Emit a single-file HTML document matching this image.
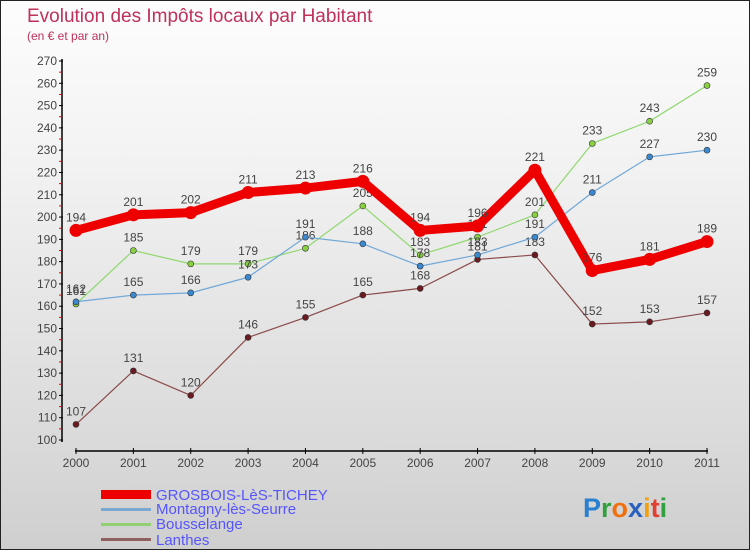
<!DOCTYPE html>
<html><head><meta charset="utf-8"><style>
body{margin:0;width:750px;height:550px;overflow:hidden;font-family:"Liberation Sans",sans-serif}
#wrap{position:relative;width:748px;height:548px;border:1px solid #222;background:linear-gradient(#fdfdfd,#f2f2f2 30%,#dadada 80%,#cfcfcf)}
</style></head><body>
<div id="wrap">
<svg id="chart" width="748" height="548">
<text x="26" y="21" font-size="19" fill="#c0305a">Evolution des Impôts locaux par Habitant</text>
<text x="26" y="39" font-size="12" fill="#c0305a">(en € et par an)</text>
<g id="axes"></g><g id="series"></g>
<g>
<rect x="100" y="489" width="50" height="9" fill="#e00"/>
<text x="155" y="499" font-size="15" fill="#55f">GROSBOIS-LèS-TICHEY</text>
<rect x="100" y="507" width="50" height="3" fill="#7aa8d0"/>
<text x="155" y="513" font-size="15" fill="#55f">Montagny-lès-Seurre</text>
<rect x="100" y="522" width="50" height="3" fill="#90d070"/>
<text x="155" y="528" font-size="15" fill="#55f">Bousselange</text>
<rect x="100" y="537" width="50" height="3" fill="#906060"/>
<text x="155" y="544" font-size="15" fill="#55f">Lanthes</text>
</g>
<text x="582" y="516" font-size="27" font-weight="bold"><tspan fill="#2a80d0">P</tspan><tspan fill="#30a040">r</tspan><tspan fill="#f07010">o</tspan><tspan fill="#2a60c0">x</tspan><tspan fill="#f0a010">i</tspan><tspan fill="#e04030">t</tspan><tspan fill="#30a040">i</tspan></text>
</svg></div>
<script>
const years=[2000,2001,2002,2003,2004,2005,2006,2007,2008,2009,2010,2011];
const grosbois=[194,201,202,211,213,216,194,196,221,176,181,189];
const montagny=[162,165,166,173,191,188,178,183,191,211,227,230];
const bousselange=[161,185,179,179,186,205,183,191,201,233,243,259];
const lanthes=[107,131,120,146,155,165,168,181,183,152,153,157];
const yTicks=[100,110,120,130,140,150,160,170,180,190,200,210,220,230,240,250,260,270];
const NS="http://www.w3.org/2000/svg";
const x=i=>75+i*(631/11);
const y=v=>439-(v-100)*(379/170);
function mk(t,a,p){const e=document.createElementNS(NS,t);for(const k in a)e.setAttribute(k,a[k]);p.appendChild(e);return e;}
const ax=document.getElementById('axes');
let l=mk('line',{x1:61,y1:58,x2:61,y2:441,stroke:'#000','stroke-width':1.5},ax);

l=mk('line',{x1:74,y1:450,x2:707,y2:450,stroke:'#000','stroke-width':1.5},ax);

yTicks.forEach((v,i)=>{
 mk('line',{x1:58,x2:62,y1:y(v),y2:y(v),stroke:'#000'},ax);
 if(i<yTicks.length-1)mk('line',{x1:58,x2:61,y1:y(v+5),y2:y(v+5),stroke:'#e00'},ax);
 const t=mk('text',{x:56,y:y(v)+4,'font-size':12,fill:'#444','text-anchor':'end'},ax);t.textContent=v;
 
});
years.forEach((yr,i)=>{
 mk('line',{x1:x(i),x2:x(i),y1:447,y2:453,stroke:'#000'},ax);
 const t=mk('text',{x:x(i),y:466,'font-size':12,fill:'#444','text-anchor':'middle'},ax);t.textContent=yr;
 
});
const sg=document.getElementById('series');
function series(data,color,dot,w,r,name){
 const g=mk('g',{},sg);
 
 const p=mk('polyline',{points:data.map((v,i)=>x(i)+','+y(v)).join(' '),fill:'none',stroke:color,'stroke-width':w,'stroke-linejoin':'round'},g);
 
 data.forEach((v,i)=>{
  const c=mk('circle',{cx:x(i),cy:y(v),r:r,fill:dot,stroke:'#333','stroke-width':r>4?0:0.6},g);
  
  const t=mk('text',{x:x(i),y:y(v)-9,'font-size':12,fill:'#444','text-anchor':'middle'},g);t.textContent=v;
  
 });
}
series(lanthes,'#8a4a4a','#6a1a20',1.2,3,'lanthes');
series(bousselange,'#90d870','#88d040',1.2,3,'bousselange');
series(montagny,'#70a8d8','#3a88d0',1.2,3,'montagny');
series(grosbois,'#ee0000','#ee0000',9,6.5,'grosbois');
</script></body></html>
